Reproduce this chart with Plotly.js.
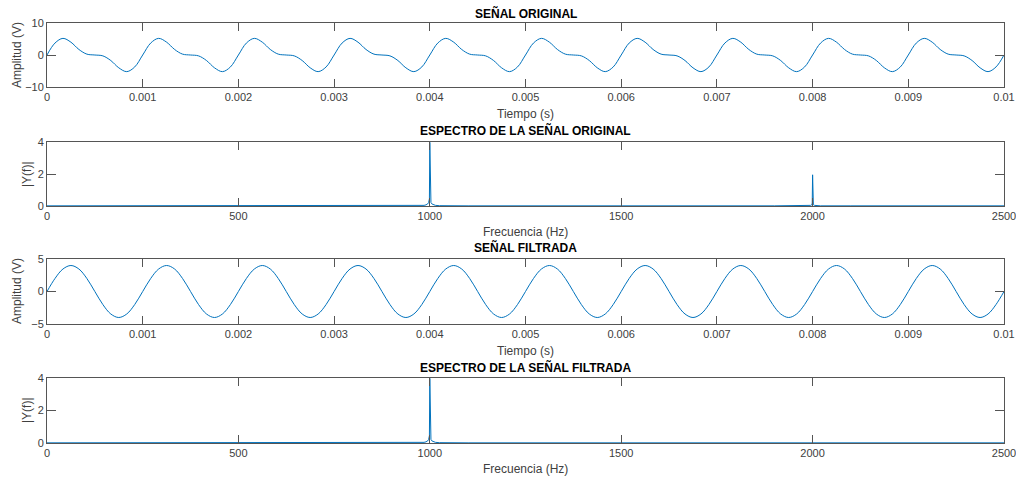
<!DOCTYPE html>
<html>
<head>
<meta charset="utf-8">
<script src="https://cdn.plot.ly/plotly-3.0.1.min.js"></script>
<style>html,body{margin:0;padding:0;background:#fff;}#chart{width:1016px;height:482px;}</style>
</head>
<body>
<div id="chart"></div>
<script>
// Time sampling (s)
var t0 = 0;
var dt = 0.01 / 120;

// Original signal samples (V), 12 samples per 1 ms period
var senalOriginal = [
 0, 3.73, 5.2, 4, 1.73, 0.27, 0, -0.27, -1.73, -4, -5.2, -3.73,
 0, 3.73, 5.2, 4, 1.73, 0.27, 0, -0.27, -1.73, -4, -5.2, -3.73,
 0, 3.73, 5.2, 4, 1.73, 0.27, 0, -0.27, -1.73, -4, -5.2, -3.73,
 0, 3.73, 5.2, 4, 1.73, 0.27, 0, -0.27, -1.73, -4, -5.2, -3.73,
 0, 3.73, 5.2, 4, 1.73, 0.27, 0, -0.27, -1.73, -4, -5.2, -3.73,
 0, 3.73, 5.2, 4, 1.73, 0.27, 0, -0.27, -1.73, -4, -5.2, -3.73,
 0, 3.73, 5.2, 4, 1.73, 0.27, 0, -0.27, -1.73, -4, -5.2, -3.73,
 0, 3.73, 5.2, 4, 1.73, 0.27, 0, -0.27, -1.73, -4, -5.2, -3.73,
 0, 3.73, 5.2, 4, 1.73, 0.27, 0, -0.27, -1.73, -4, -5.2, -3.73,
 0, 3.73, 5.2, 4, 1.73, 0.27, 0, -0.27, -1.73, -4, -5.2, -3.73,
 0
];

// Filtered signal samples (V)
var senalFiltrada = [
 0, 2, 3.46, 4, 3.46, 2, 0, -2, -3.46, -4, -3.46, -2,
 0, 2, 3.46, 4, 3.46, 2, 0, -2, -3.46, -4, -3.46, -2,
 0, 2, 3.46, 4, 3.46, 2, 0, -2, -3.46, -4, -3.46, -2,
 0, 2, 3.46, 4, 3.46, 2, 0, -2, -3.46, -4, -3.46, -2,
 0, 2, 3.46, 4, 3.46, 2, 0, -2, -3.46, -4, -3.46, -2,
 0, 2, 3.46, 4, 3.46, 2, 0, -2, -3.46, -4, -3.46, -2,
 0, 2, 3.46, 4, 3.46, 2, 0, -2, -3.46, -4, -3.46, -2,
 0, 2, 3.46, 4, 3.46, 2, 0, -2, -3.46, -4, -3.46, -2,
 0, 2, 3.46, 4, 3.46, 2, 0, -2, -3.46, -4, -3.46, -2,
 0, 2, 3.46, 4, 3.46, 2, 0, -2, -3.46, -4, -3.46, -2,
 0
];

// Spectrum of original signal
var freqOriginal = [0, 900, 975, 985, 990, 994, 997, 999, 1000, 1001, 1003, 1006, 1010, 1015, 1025, 1100,
                    1900, 1980, 1990, 1995, 1998, 1999, 2000, 2001, 2002, 2005, 2010, 2020, 2100, 2500];
var magOriginal  = [0.01, 0.01, 0.02, 0.04, 0.07, 0.12, 0.22, 0.45, 3.98, 0.45, 0.22, 0.12, 0.07, 0.04, 0.02, 0.01,
                    0.01, 0.01, 0.02, 0.04, 0.08, 0.18, 1.95, 0.18, 0.08, 0.04, 0.02, 0.01, 0.01, 0.01];

// Spectrum of filtered signal
var freqFiltrada = [0, 900, 975, 985, 990, 994, 997, 999, 1000, 1001, 1003, 1006, 1010, 1015, 1025, 1100, 2500];
var magFiltrada  = [0.01, 0.01, 0.02, 0.04, 0.07, 0.12, 0.22, 0.45, 3.98, 0.45, 0.22, 0.12, 0.07, 0.04, 0.02, 0.01, 0.01];

// Tick labels
var timeTicks = [0, 0.001, 0.002, 0.003, 0.004, 0.005, 0.006, 0.007, 0.008, 0.009, 0.01];
var timeTickText = ['0', '0.001', '0.002', '0.003', '0.004', '0.005', '0.006', '0.007', '0.008', '0.009', '0.01'];
var freqTicks = [0, 500, 1000, 1500, 2000, 2500];

var lineColor = '#0072BD';
var axColor = '#555555';
var font = 'Liberation Sans, Arial, Helvetica, sans-serif';

var traces = [
  {x0: t0, dx: dt, y: senalOriginal, type: 'scatter', mode: 'lines', line: {color: lineColor, width: 1, shape: 'spline'}, xaxis: 'x', yaxis: 'y', hoverinfo: 'none'},
  {x: freqOriginal, y: magOriginal, type: 'scatter', mode: 'lines', line: {color: lineColor, width: 1}, xaxis: 'x2', yaxis: 'y2', hoverinfo: 'none'},
  {x0: t0, dx: dt, y: senalFiltrada, type: 'scatter', mode: 'lines', line: {color: lineColor, width: 1, shape: 'spline'}, xaxis: 'x3', yaxis: 'y3', hoverinfo: 'none'},
  {x: freqFiltrada, y: magFiltrada, type: 'scatter', mode: 'lines', line: {color: lineColor, width: 1}, xaxis: 'x4', yaxis: 'y4', hoverinfo: 'none'}
];

function H(p) { return 1 - p / 482; }

function xax(anchor, range, tickvals, ticktext) {
  var a = {
    anchor: anchor, domain: [0, 1], range: range, tickvals: tickvals,
    showgrid: false, zeroline: false, showline: true, mirror: 'ticks',
    linecolor: axColor, linewidth: 1, ticks: 'inside', ticklen: 8, tickwidth: 1, tickcolor: axColor,
    ticklabeloverflow: 'allow',
    tickfont: {family: font, size: 11, color: '#404040'}, fixedrange: true
  };
  if (ticktext) a.ticktext = ticktext;
  return a;
}
function yax(anchor, domain, range, tickvals) {
  return {
    anchor: anchor, domain: domain, range: range, tickvals: tickvals,
    showgrid: false, zeroline: false, showline: true, mirror: 'ticks',
    linecolor: axColor, linewidth: 1, ticks: 'inside', ticklen: 9, tickwidth: 1, tickcolor: axColor,
    ticklabeloverflow: 'allow',
    tickfont: {family: font, size: 11, color: '#404040'}, fixedrange: true
  };
}

function title(text, yp) {
  return {text: '<b>' + text + '</b>', xref: 'paper', yref: 'paper', x: 0.5, y: H(yp), xanchor: 'center', yanchor: 'middle', showarrow: false, font: {family: font, size: 12, color: '#000'}};
}
function xtitle(text, yp) {
  return {text: text, xref: 'paper', yref: 'paper', x: 0.5, y: H(yp), xanchor: 'center', yanchor: 'middle', showarrow: false, font: {family: font, size: 12, color: '#404040'}};
}
function ytitle(text, xp, yp) {
  return {text: text, xref: 'paper', yref: 'paper', x: (xp - 47) / 957, y: H(yp), xanchor: 'center', yanchor: 'middle', textangle: -90, showarrow: false, font: {family: font, size: 12, color: '#404040'}};
}

var layout = {
  width: 1016, height: 482,
  margin: {l: 47, r: 12, t: 0, b: 0},
  paper_bgcolor: '#fff', plot_bgcolor: '#fff',
  showlegend: false,
  xaxis: xax('y', [0, 0.01], timeTicks, timeTickText),
  yaxis: yax('x', [H(87), H(23)], [-10, 10], [-10, 0, 10]),
  xaxis2: xax('y2', [0, 2500], freqTicks),
  yaxis2: yax('x2', [H(206), H(142)], [0, 4], [0, 2, 4]),
  xaxis3: xax('y3', [0, 0.01], timeTicks, timeTickText),
  yaxis3: yax('x3', [H(324), H(259)], [-5, 5], [-5, 0, 5]),
  xaxis4: xax('y4', [0, 2500], freqTicks),
  yaxis4: yax('x4', [H(443), H(378)], [0, 4], [0, 2, 4]),
  annotations: [
    title('SEÑAL ORIGINAL', 13),
    title('ESPECTRO DE LA SEÑAL ORIGINAL', 131),
    title('SEÑAL FILTRADA', 248),
    title('ESPECTRO DE LA SEÑAL FILTRADA', 367),
    xtitle('Tiempo (s)', 114),
    xtitle('Frecuencia (Hz)', 232),
    xtitle('Tiempo (s)', 351),
    xtitle('Frecuencia (Hz)', 469),
    ytitle('Amplitud (V)', 17, 55),
    ytitle('|Y(f)|', 27, 174),
    ytitle('Amplitud (V)', 17, 291),
    ytitle('|Y(f)|', 27, 410)
  ]
};

Plotly.newPlot('chart', traces, layout, {staticPlot: true, displayModeBar: false});
</script>
</body>
</html>
